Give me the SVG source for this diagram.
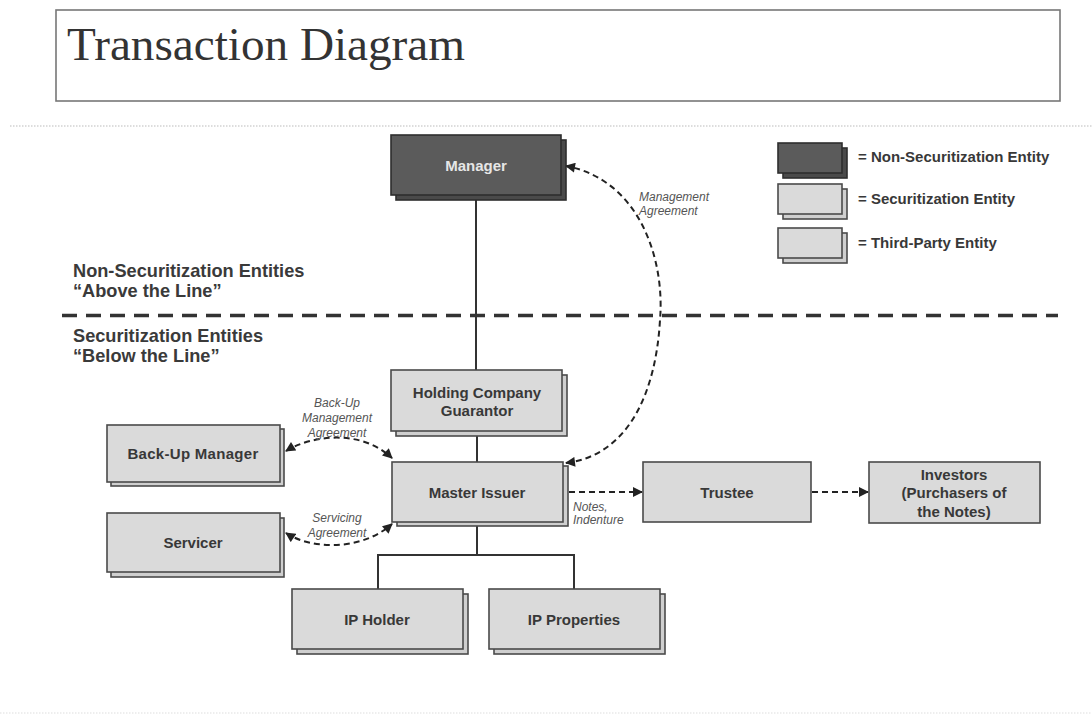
<svg xmlns="http://www.w3.org/2000/svg" width="1092" height="715" viewBox="0 0 1092 715">
<style>
.box{fill:#dadada;stroke:#4a4a4a;stroke-width:1.6}
.sh{fill:#cfcfcf;stroke:#4a4a4a;stroke-width:1.6}
.dbox{fill:#5b5b5b;stroke:#2e2e2e;stroke-width:1.6}
.dsh{fill:#4a4a4a;stroke:#2e2e2e;stroke-width:1.6}
.lbl{font-family:"Liberation Sans",Arial,sans-serif;font-weight:bold;font-size:15px;fill:#383838;text-anchor:middle}
.leg{font-family:"Liberation Sans",Arial,sans-serif;font-weight:bold;font-size:15px;fill:#383838}
.sec{font-family:"Liberation Sans",Arial,sans-serif;font-weight:bold;font-size:18.2px;fill:#3a3a3a}
.it{font-family:"Liberation Sans",Arial,sans-serif;font-style:italic;font-size:12px;fill:#555}
.solid{fill:none;stroke:#333;stroke-width:2}
.dash{fill:none;stroke:#222;stroke-width:2;stroke-dasharray:6 4}
</style>
<defs>
<marker id="ah" viewBox="0 0 10 10" refX="9" refY="5" markerWidth="11" markerHeight="10" markerUnits="userSpaceOnUse" orient="auto-start-reverse"><path d="M0,0 L10,5 L0,10 z" fill="#222"/></marker>
</defs>
<rect width="1092" height="715" fill="#ffffff"/>
<g id="title">
<rect x="56" y="10" width="1004" height="91" fill="#fff" stroke="#777" stroke-width="1.6"/>
<text x="67" y="60" font-family="Liberation Serif,'Times New Roman',serif" font-size="46" fill="#333" textLength="398" lengthAdjust="spacingAndGlyphs">Transaction Diagram</text>
</g>
<line x1="10" y1="126" x2="1092" y2="126" stroke="#bbb" stroke-width="1" stroke-dasharray="1.5 1.5"/>
<line x1="0" y1="713" x2="1092" y2="713" stroke="#ddd" stroke-width="1" stroke-dasharray="1.5 1.5"/>
<g id="sections">
<text class="sec" x="73" y="277">Non-Securitization Entities</text>
<text class="sec" x="73" y="297">“Above the Line”</text>
<line x1="62" y1="315.5" x2="1058" y2="315.5" stroke="#333" stroke-width="3.5" stroke-dasharray="15 9"/>
<text class="sec" x="73" y="342">Securitization Entities</text>
<text class="sec" x="73" y="362">“Below the Line”</text>
</g>
<g id="legend">
<rect class="dsh" x="783" y="148" width="64" height="30"/>
<rect class="dbox" x="778" y="143" width="64" height="30"/>
<text class="leg" x="858" y="162">= Non-Securitization Entity</text>
<rect class="sh" x="783" y="189" width="64" height="30"/>
<rect class="box" x="778" y="184" width="64" height="30"/>
<text class="leg" x="858" y="204">= Securitization Entity</text>
<rect class="sh" x="783" y="233" width="64" height="30"/>
<rect class="box" x="778" y="228" width="64" height="30"/>
<text class="leg" x="858" y="248">= Third-Party Entity</text>
</g>
<g id="connectors">
<path class="solid" d="M476,200 V370"/>
<path class="solid" d="M477,436 V462"/>
<path class="solid" d="M477,526 V555 M378,555 H574 M378,554 V589 M574,554 V589"/>
<path class="dash" d="M566,463 C630,455 656,390 660,320 C665,260 640,180 566,166" marker-start="url(#ah)" marker-end="url(#ah)"/>
<path class="dash" d="M286,451 C310,436 360,428 392,458" marker-start="url(#ah)" marker-end="url(#ah)"/>
<path class="dash" d="M286,533 C310,549 360,552 392,524" marker-start="url(#ah)" marker-end="url(#ah)"/>
<path class="dash" d="M569,492 H642" marker-end="url(#ah)"/>
<path class="dash" d="M812,492 H868" marker-end="url(#ah)"/>
<text class="it" x="639" y="201">Management</text>
<text class="it" x="639" y="215">Agreement</text>
<text class="it" x="337" y="407" text-anchor="middle">Back-Up</text>
<text class="it" x="337" y="422" text-anchor="middle">Management</text>
<text class="it" x="337" y="437" text-anchor="middle">Agreement</text>
<text class="it" x="337" y="522" text-anchor="middle">Servicing</text>
<text class="it" x="337" y="537" text-anchor="middle">Agreement</text>
<text class="it" x="573" y="511">Notes,</text>
<text class="it" x="573" y="524">Indenture</text>
</g>
<g id="manager">
<rect class="dsh" x="396" y="140" width="170" height="60"/>
<rect class="dbox" x="391" y="135" width="170" height="60"/>
<text class="lbl" x="476" y="171" style="fill:#e6e6e6">Manager</text>
</g>
<g id="holding">
<rect class="sh" x="396" y="375" width="171" height="61"/>
<rect class="box" x="391" y="370" width="171" height="61"/>
<text class="lbl" x="477" y="398">Holding Company</text>
<text class="lbl" x="477" y="416">Guarantor</text>
</g>
<g id="master">
<rect class="sh" x="397" y="466" width="171" height="60"/>
<rect class="box" x="392" y="462" width="171" height="60"/>
<text class="lbl" x="477" y="498">Master Issuer</text>
</g>
<g id="backup">
<rect class="sh" x="111" y="429" width="173" height="57"/>
<rect class="box" x="107" y="425" width="173" height="57"/>
<text class="lbl" x="193" y="459" style="letter-spacing:0.3px">Back-Up Manager</text>
</g>
<g id="servicer">
<rect class="sh" x="111" y="518" width="173" height="59"/>
<rect class="box" x="107" y="513" width="173" height="59"/>
<text class="lbl" x="193" y="548">Servicer</text>
</g>
<g id="trustee">
<rect class="box" x="643" y="462" width="168" height="60"/>
<text class="lbl" x="727" y="498">Trustee</text>
</g>
<g id="investors">
<rect class="box" x="869" y="462" width="171" height="61"/>
<text class="lbl" x="954" y="480">Investors</text>
<text class="lbl" x="954" y="498">(Purchasers of</text>
<text class="lbl" x="954" y="517">the Notes)</text>
</g>
<g id="ipholder">
<rect class="sh" x="297" y="594" width="171" height="60"/>
<rect class="box" x="292" y="589" width="171" height="60"/>
<text class="lbl" x="377" y="625">IP Holder</text>
</g>
<g id="ipproperties">
<rect class="sh" x="494" y="594" width="171" height="60"/>
<rect class="box" x="489" y="589" width="171" height="60"/>
<text class="lbl" x="574" y="625">IP Properties</text>
</g>
</svg>
